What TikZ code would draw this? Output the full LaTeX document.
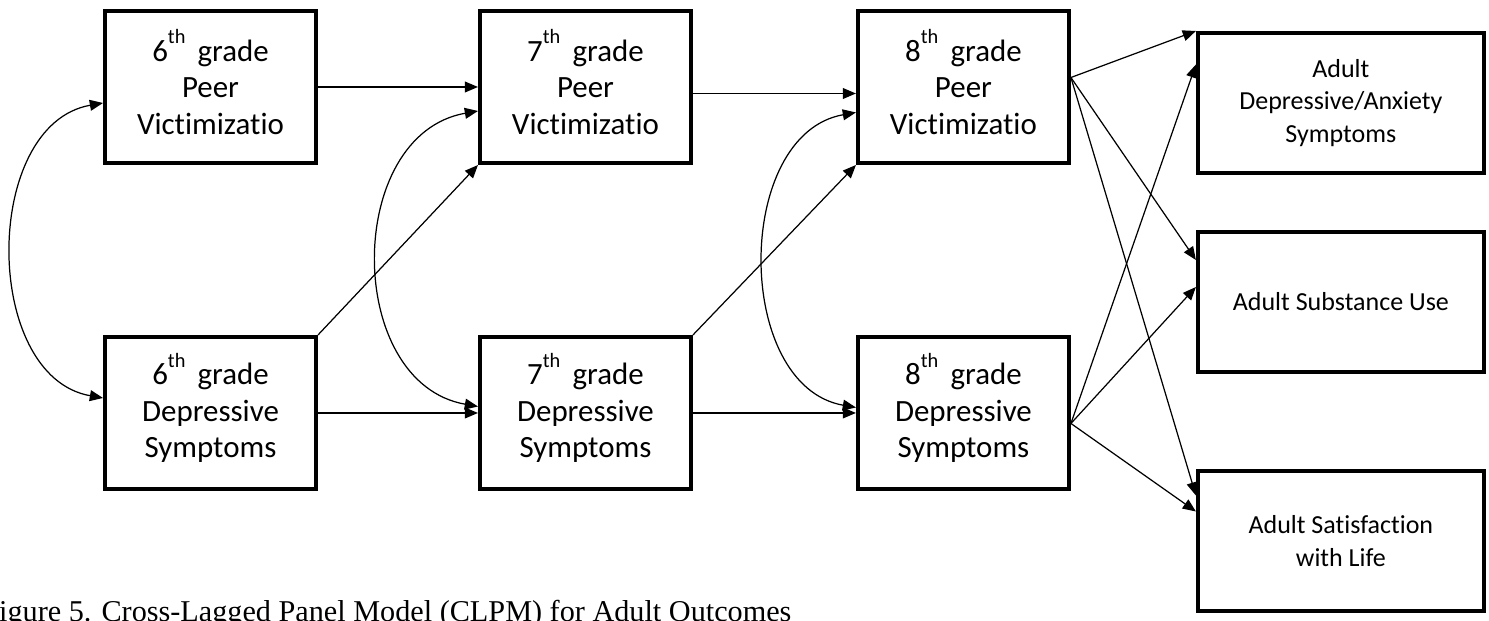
\documentclass[tikz,border=0pt]{standalone}
\usepackage{fontspec}
\setmainfont{Carlito}[Ligatures=NoCommon]
\newfontfamily\capfont{Liberation Serif}
\usepackage{tikz}
\usetikzlibrary{positioning, arrows.meta, calc}
\newcommand\ordsup[1]{\raisebox{10pt}[0pt][0pt]{\fontsize{11.6}{12}\selectfont #1}\,}

\begin{document}
\begin{tikzpicture}[x=0.02cm, y=-0.02cm,
    wave/.style={draw, line width=2.3pt, minimum width=4.22cm, minimum height=3.04cm, align=center, font=\fontsize{17.6}{20.8}\selectfont},
    outcome/.style={draw, line width=2.3pt, minimum width=5.72cm, minimum height=2.8cm, align=center, font=\fontsize{14.8}{18.4}\selectfont},
    lag/.style={-{Triangle[length=7.5pt, width=6.2pt]}, line width=0.7pt},
    cov/.style={{Triangle[length=7.5pt, width=6.2pt]}-{Triangle[length=7.5pt, width=6.2pt]}, line width=0.7pt}]
    \useasboundingbox (0,0) rectangle (1489,621);

    \node[wave] (pv6) at (210.5,87) {6\ordsup{th} grade\\Peer\\Victimizatio};
    \node[wave, below=3.4cm of pv6] (ds6) {6\ordsup{th} grade\\Depressive\\Symptoms};
    \node[wave, right=3.2cm of pv6] (pv7) {7\ordsup{th} grade\\Peer\\Victimizatio};
    \node[wave, below=3.4cm of pv7] (ds7) {7\ordsup{th} grade\\Depressive\\Symptoms};
    \node[wave, right=3.26cm of pv7] (pv8) {8\ordsup{th} grade\\Peer\\Victimizatio};
    \node[wave, below=3.4cm of pv8] (ds8) {8\ordsup{th} grade\\Depressive\\Symptoms};

    \node[outcome, right=2.5cm of pv8, yshift=-0.32cm] (dep) {Adult\\Depressive/Anxiety\\Symptoms};
    \node[outcome, below=1.1cm of dep] (sub) {Adult Substance Use};
    \node[outcome, below=1.9cm of sub] (sat) {Adult Satisfaction\\with Life};

    \node[anchor=base west, inner sep=0, font=\capfont\fontsize{17.2}{20}\selectfont] (cap) at (-18,622)
      {Figure 5. Cross-Lagged Panel Model (CLPM) for Adult Outcomes};

    % autoregressive and cross-lagged paths
    \draw[lag] (pv6) -- (pv7);
    \draw[lag] ([yshift=-0.13cm]pv7.east) -- ([yshift=-0.13cm]pv7.east -| pv8.west);
    \draw[lag] (ds6) -- (ds7);
    \draw[lag] (ds7) -- (ds8);
    \draw[lag] (ds6.north east) -- (pv7.south west);
    \draw[lag] (ds7.north east) -- (pv8.south west);

    % within-wave covariances
    \draw[cov] ([yshift=-0.32cm]pv6.west) to[out=190, in=170, looseness=1.07] ([yshift=0.3cm]ds6.west);
    \draw[cov] ([yshift=-0.48cm]pv7.west) to[out=190, in=170, looseness=1.18] ([yshift=0.13cm]ds7.west);
    \draw[cov] ([yshift=-0.51cm]pv8.west) to[out=190, in=170, looseness=1.08] ([yshift=0.11cm]ds8.west);

    % adult outcomes
    \coordinate (pvout) at ([yshift=0.19cm]pv8.east);
    \coordinate (dsout) at ([yshift=-0.21cm]ds8.east);
    \draw[lag] (pvout) -- (dep.north west);
    \draw[lag] (pvout) -- ([yshift=0.84cm]sub.west);
    \draw[lag] (pvout) -- ([yshift=0.91cm]sat.west);
    \draw[lag] (dsout) -- ([yshift=0.77cm]dep.west);
    \draw[lag] (dsout) -- ([yshift=0.3cm]sub.west);
    \draw[lag] (dsout) -- ([yshift=0.59cm]sat.west);
\end{tikzpicture}
\end{document}
